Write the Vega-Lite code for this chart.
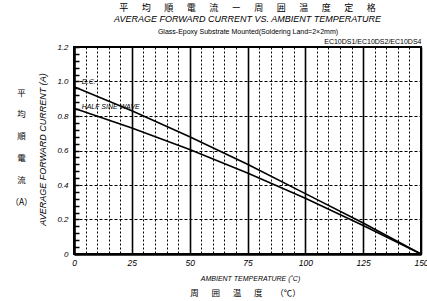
{
  "$schema": "https://vega.github.io/schema/vega-lite/v6.json",
  "width": 347,
  "height": 207,
  "autosize": "none",
  "padding": {"left": 74, "top": 47, "right": 6, "bottom": 47},
  "background": "white",
  "title": {
    "text": "平\u3000\u2002均\u3000\u2002順\u3000\u2002電\u3000\u2002流\u3000\u2002ー\u3000\u2002周\u3000\u2002囲\u3000\u2002温\u3000\u2002度\u3000\u2002定\u3000\u2002格",
    "subtitle": "AVERAGE FORWARD CURRENT VS. AMBIENT TEMPERATURE",
    "anchor": "middle",
    "frame": "group",
    "font": "Noto Sans CJK JP",
    "fontSize": 9,
    "fontWeight": "normal",
    "color": "black",
    "subtitleFont": "Liberation Sans",
    "subtitleFontStyle": "italic",
    "subtitleFontSize": 9,
    "subtitleColor": "black",
    "subtitlePadding": 2,
    "offset": 3
  },
  "datasets": {
    "curves": [
      {"series": "D.C.", "temp": 0, "current": 0.97},
      {"series": "D.C.", "temp": 25, "current": 0.83},
      {"series": "D.C.", "temp": 50, "current": 0.68},
      {"series": "D.C.", "temp": 75, "current": 0.52},
      {"series": "D.C.", "temp": 100, "current": 0.35},
      {"series": "D.C.", "temp": 125, "current": 0.18},
      {"series": "D.C.", "temp": 150, "current": 0},
      {"series": "HALF SINE WAVE", "temp": 0, "current": 0.845},
      {"series": "HALF SINE WAVE", "temp": 25, "current": 0.73},
      {"series": "HALF SINE WAVE", "temp": 50, "current": 0.606},
      {"series": "HALF SINE WAVE", "temp": 75, "current": 0.47},
      {"series": "HALF SINE WAVE", "temp": 100, "current": 0.323},
      {"series": "HALF SINE WAVE", "temp": 125, "current": 0.165},
      {"series": "HALF SINE WAVE", "temp": 150, "current": 0}
    ],
    "labels": [
      {"series": "D.C.", "temp": 3.3, "current": 1.0},
      {"series": "HALF SINE WAVE", "temp": 3.3, "current": 0.852}
    ]
  },
  "layer": [
    {
      "data": {"name": "curves"},
      "mark": {"type": "line", "color": "black", "strokeWidth": 1.6},
      "encoding": {
        "x": {
          "field": "temp", "type": "quantitative",
          "scale": {"domain": [0, 150], "nice": false, "zero": false},
          "axis": {
            "orient": "bottom",
            "values": [0,5,10,15,20,25,30,35,40,45,50,55,60,65,70,75,80,85,90,95,100,105,110,115,120,125,130,135,140,145,150],
            "labelExpr": "datum.value % 25 === 0 ? datum.label : ''",
            "labelFlush": false,
            "labelOverlap": false,
            "labelFont": "Liberation Sans",
            "labelFontStyle": "italic",
            "labelFontSize": 8.5,
            "labelColor": "black",
            "labelPadding": 4,
            "ticks": false,
            "domainColor": "black",
            "domainWidth": 2.5,
            "grid": true,
            "gridColor": "black",
            "gridDash": {"condition": {"test": "datum.value % 25 === 0", "value": []}, "value": [2, 2]},
            "gridWidth": {"condition": {"test": "datum.value % 25 === 0", "value": 1.6}, "value": 1},
            "title": "AMBIENT TEMPERATURE (˚C)",
            "titleFont": "Liberation Sans",
            "titleFontStyle": "italic",
            "titleFontWeight": "normal",
            "titleFontSize": 7,
            "titleColor": "black",
            "titleBaseline": "middle",
            "titleX": 176,
            "titleY": 24
          }
        },
        "y": {
          "field": "current", "type": "quantitative",
          "scale": {"domain": [0, 1.2], "nice": false},
          "axis": {
            "orient": "left",
            "values": [0,0.04,0.08,0.12,0.16,0.2,0.24,0.28,0.32,0.36,0.4,0.44,0.48,0.52,0.56,0.6,0.64,0.68,0.72,0.76,0.8,0.84,0.88,0.92,0.96,1.0,1.04,1.08,1.12,1.16,1.2],
            "labelExpr": "round(datum.value*100) % 20 === 0 ? (datum.value === 0 ? '0' : format(datum.value, '.1f')) : ''",
            "labelOverlap": false,
            "labelFont": "Liberation Sans",
            "labelFontStyle": "italic",
            "labelFontSize": 8,
            "labelColor": "black",
            "labelPadding": 11,
            "tickSize": -5,
            "tickColor": "black",
            "tickWidth": 1.5,
            "domainColor": "black",
            "domainWidth": 2.5,
            "grid": true,
            "gridColor": "black",
            "gridDash": [3, 2],
            "gridWidth": 1,
            "gridOpacity": {"condition": {"test": "round(datum.value*100) % 20 === 0", "value": 1}, "value": 0},
            "title": "AVERAGE FORWARD CURRENT (A)",
            "titleFont": "Liberation Sans",
            "titleFontStyle": "italic",
            "titleFontWeight": "normal",
            "titleFontSize": 9,
            "titleColor": "black",
            "titleAngle": 270,
            "titleAlign": "center",
            "titleBaseline": "middle",
            "titleX": -32,
            "titleY": 102
          }
        },
        "detail": {"field": "series"}
      }
    },
    {
      "data": {"name": "labels"},
      "transform": [{"filter": "datum.series === 'D.C.'"}],
      "mark": {"type": "text", "font": "Liberation Sans", "fontStyle": "italic", "fontSize": 7, "align": "left", "baseline": "middle", "color": "black"},
      "encoding": {
        "x": {
          "field": "temp", "type": "quantitative",
          "scale": {"domain": [0, 150], "nice": false, "zero": false},
          "axis": {
            "orient": "bottom", "labels": false, "ticks": false, "domain": false, "grid": false,
            "title": "周\u3000\u2002囲\u3000\u2002温\u3000\u2002度\u3000\u2002（℃）",
            "titleFont": "Noto Sans CJK JP", "titleFontWeight": "normal", "titleFontSize": 8.5, "titleColor": "black",
            "titleBaseline": "middle", "titleX": 171, "titleY": 38
          }
        },
        "y": {
          "field": "current", "type": "quantitative",
          "scale": {"domain": [0, 1.2], "nice": false},
          "axis": {
            "orient": "left", "labels": false, "ticks": false, "domain": false, "grid": false,
            "title": ["平", "均", "順", "電", "流", "（A）"],
            "titleFont": "Noto Sans CJK JP", "titleFontWeight": "normal", "titleFontSize": 8.5, "titleColor": "black",
            "titleAngle": 0, "titleAlign": "center", "titleBaseline": "top", "titleLineHeight": 21.8,
            "titleX": -53, "titleY": 41
          }
        },
        "text": {"field": "series"}
      }
    },
    {
      "data": {"name": "labels"},
      "transform": [{"filter": "datum.series === 'HALF SINE WAVE'"}],
      "mark": {"type": "text", "font": "Liberation Sans", "fontStyle": "italic", "fontSize": 7, "align": "left", "baseline": "middle", "color": "black"},
      "encoding": {
        "x": {
          "field": "temp", "type": "quantitative",
          "scale": {"domain": [0, 150], "nice": false, "zero": false},
          "axis": {
            "orient": "top", "labels": false, "ticks": false, "domain": false, "grid": false,
            "title": "Glass-Epoxy Substrate Mounted(Soldering Land=2×2mm)",
            "titleFont": "Liberation Sans", "titleFontWeight": "normal", "titleFontSize": 7, "titleColor": "black",
            "titleBaseline": "middle", "titleX": 173.5, "titleY": -16
          }
        },
        "y": {
          "field": "current", "type": "quantitative",
          "scale": {"domain": [0, 1.2], "nice": false},
          "axis": {
            "orient": "right", "labels": false, "ticks": false, "domain": false, "grid": false,
            "title": "EC10DS1/EC10DS2/EC10DS4",
            "titleFont": "Liberation Sans", "titleFontWeight": "normal", "titleFontSize": 7, "titleColor": "black",
            "titleAngle": 0, "titleAlign": "right", "titleBaseline": "middle",
            "titleX": 0, "titleY": -6
          }
        },
        "text": {"field": "series"}
      }
    }
  ],
  "resolve": {"axis": {"x": "independent", "y": "independent"}},
  "config": {
    "view": {"stroke": "black", "strokeWidth": 2},
    "font": "Liberation Sans"
  }
}
